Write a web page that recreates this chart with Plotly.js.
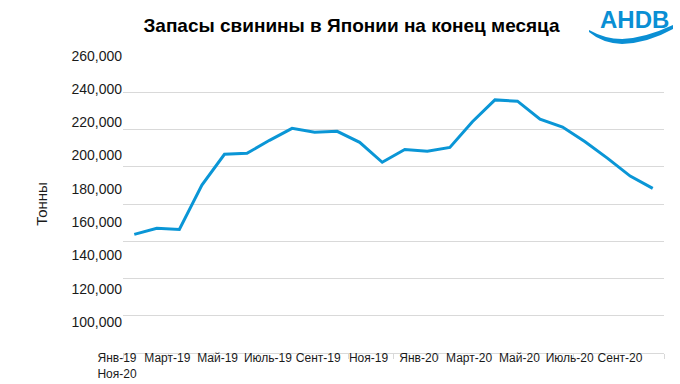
<!DOCTYPE html>
<html>
<head>
<meta charset="utf-8">
<script src="https://cdn.plot.ly/plotly-3.0.1.min.js"></script>
<style>html,body{margin:0;padding:0;background:#fff;}#chart{width:680px;height:384px;}</style>
</head>
<body>
<div id="chart"></div>
<script>
// Month labels (end of month), Jan 2019 – Dec 2020
const months = ["Янв-19","Фев-19","Март-19","Апр-19","Май-19","Июнь-19","Июль-19","Авг-19","Сент-19","Окт-19","Ноя-19","Дек-19",
                "Янв-20","Фев-20","Март-20","Апр-20","Май-20","Июнь-20","Июль-20","Авг-20","Сент-20","Окт-20","Ноя-20","Дек-20"];
// Pork stocks, tonnes
const stocks = [163700,167000,166300,190200,206700,207200,214200,220600,218500,219000,213100,202400,
                209300,208300,210400,224200,235900,235200,225500,221300,213400,204500,195000,188400];
// Axis tick labels
const xTickLabels = ["Янв-19","Март-19","Май-19","Июль-19","Сент-19","Ноя-19","Янв-20","Март-20","Май-20","Июль-20","Сент-20","Ноя-20"];
const yTickValues = [100000,120000,140000,160000,180000,200000,220000,240000,260000];

const FONT = "Liberation Sans, Arial, sans-serif";
const L = 123, R = 664, T = 55, B = 352.7, W = 680, H = 384;
const px = x => (x - L) / (R - L);
const py = y => (B - y) / (B - T);

const xIdx = months.map((_, i) => i);
const xLabelIdx = xTickLabels.slice(0, 11).map((_, i) => i);
const xLabelText = xTickLabels.slice(0, 11).map((t, i) => i === 0 ? t + "<br>" + xTickLabels[11] : t);

const traces = [
  {
    x: xIdx, y: stocks, text: months, type: "scatter", mode: "lines",
    line: {color: "#0a96d6", width: 3}, hovertemplate: "%{text}: %{y:,}<extra></extra>"
  },
  { x: [], y: [], xaxis: "x2", yaxis: "y2", type: "scatter", mode: "lines", showlegend: false, hoverinfo: "skip" }
];

// AHDB swoosh (decorative), pixel points converted to paper coords
function pth(pts) {
  return pts.map(p => p[0] + px(p[1]).toFixed(4) + "," + py(p[2]).toFixed(4)).join(" ") + " Z";
}
const swoosh = pth([["M",589,30],["Q",605,39],["",622,39],["Q",645,38],["",673,25],["L",673,29],["Q",648,43],["",622,44],["Q",602,43],["",589,32]]);

const layout = {
  width: W, height: H,
  margin: {l: L, r: W - R, t: T, b: H - B},
  paper_bgcolor: "#fff", plot_bgcolor: "#fff",
  showlegend: false,
  font: {family: FONT, color: "#1a1a1a"},
  title: {
    text: "Запасы свинины в Японии на конец месяца",
    font: {family: FONT, size: 19, weight: 700, color: "#000"},
    xref: "container", x: 351.5 / W, xanchor: "center",
    yref: "container", y: 1 - 25 / H, yanchor: "middle"
  },
  xaxis: {
    range: [-0.5, 23.5], showgrid: false, zeroline: false,
    showline: true, linecolor: "#d9d9d9", linewidth: 1,
    tickmode: "array", tickvals: months.map((_, i) => i - 0.5).filter((_, i) => i % 2 === 0).concat([23.5]),
    ticks: "outside", ticklen: 5, tickcolor: "#d9d9d9", showticklabels: false, fixedrange: true
  },
  yaxis: {
    range: [100000, 260000], tickmode: "array", tickvals: yTickValues,
    showgrid: true, gridcolor: "#d9d9d9", gridwidth: 1, zeroline: false,
    showline: false, showticklabels: false, ticks: "", fixedrange: true
  },
  xaxis2: {
    overlaying: "x", side: "bottom", range: [0, (R - L) / 50.3],
    tickmode: "array", tickvals: xLabelIdx, ticktext: xLabelText,
    showgrid: false, zeroline: false, showline: false, ticks: "",
    ticklabelshift: -6, ticklabelstandoff: -4,
    tickfont: {family: FONT, size: 12, color: "#1a1a1a"}, fixedrange: true
  },
  yaxis2: {
    overlaying: "y", side: "left", range: [81350, 260420],
    tickmode: "array", tickvals: yTickValues, tickformat: ",",
    showgrid: false, zeroline: false, showline: false, ticks: "",
    tickfont: {family: FONT, size: 14, color: "#1a1a1a"},
    title: {text: "Тонны", font: {family: FONT, size: 15, color: "#1a1a1a"}, standoff: 20},
    fixedrange: true
  },
  annotations: [
    {text: "<b>AHDB</b>", xref: "paper", yref: "paper", x: px(634.5), y: py(19.5),
     xanchor: "center", yanchor: "middle", showarrow: false,
     font: {family: FONT, size: 24, color: "#0a8fd4"}}
  ],
  shapes: [
    {type: "path", xref: "paper", yref: "paper", path: swoosh, fillcolor: "#0a8fd4", line: {width: 0}}
  ]
};

Plotly.newPlot("chart", traces, layout, {displayModeBar: false, staticPlot: true});
</script>
</body>
</html>
